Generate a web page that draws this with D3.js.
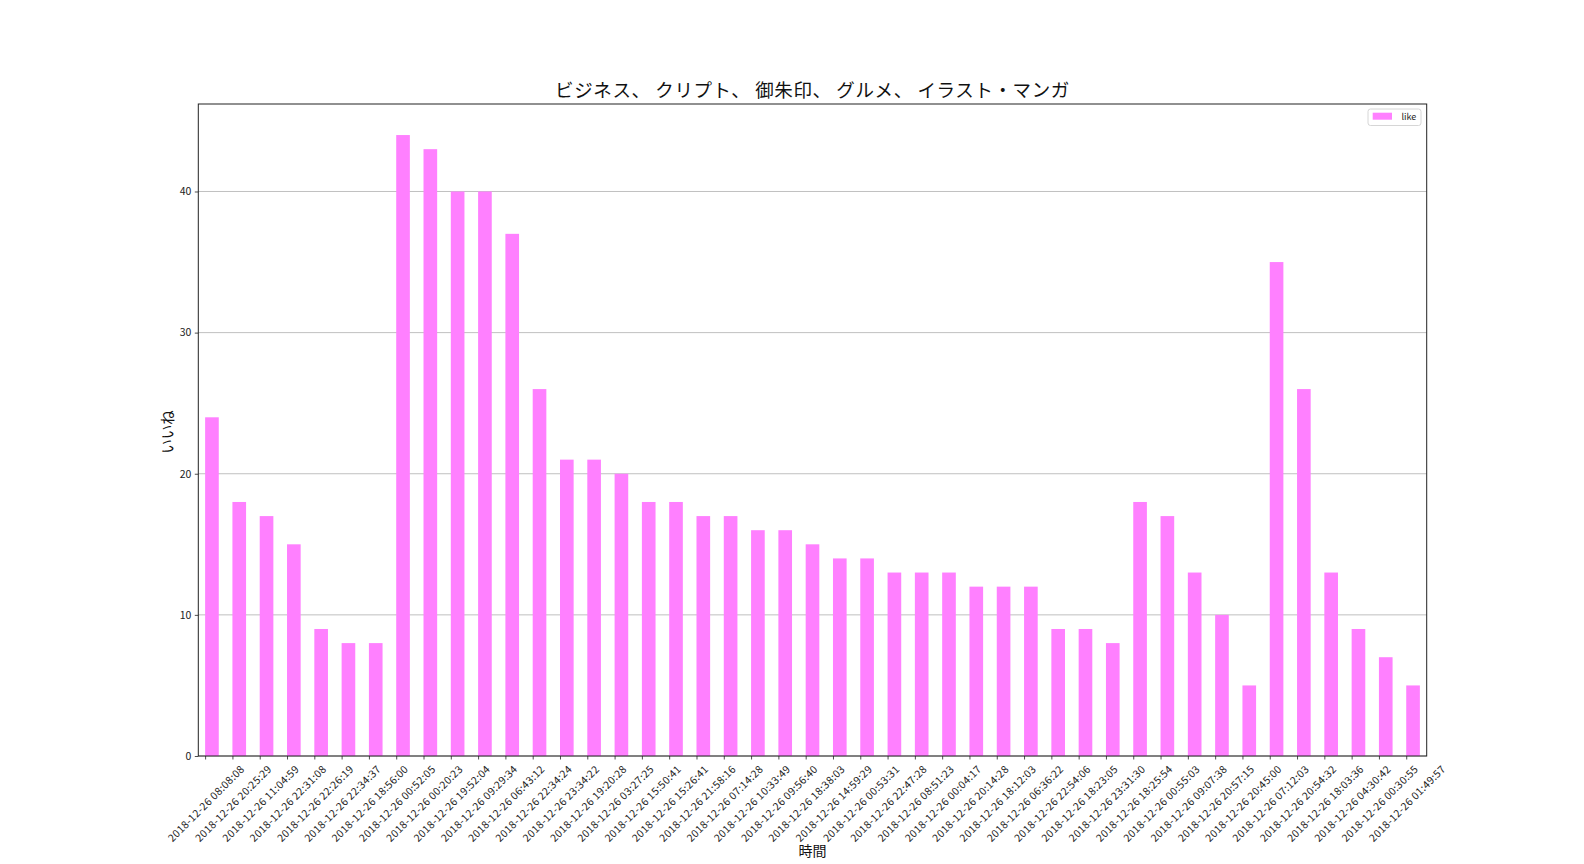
<!DOCTYPE html>
<html><head><meta charset="utf-8">
<script src="https://cdn.jsdelivr.net/npm/d3@7"></script>
<style>body{margin:0;background:#fff}svg{display:block}text{font-family:"Noto Sans CJK JP","Noto Sans",sans-serif}</style>
</head><body><svg id="c" width="1584" height="864"></svg>
<script>
const categories = ["2018-12-26 08:08:08","2018-12-26 20:25:29","2018-12-26 11:04:59","2018-12-26 22:31:08","2018-12-26 22:26:19","2018-12-26 22:34:37","2018-12-26 18:56:00","2018-12-26 00:52:05","2018-12-26 00:20:23","2018-12-26 19:52:04","2018-12-26 09:29:34","2018-12-26 06:43:12","2018-12-26 22:34:24","2018-12-26 23:34:22","2018-12-26 19:20:28","2018-12-26 03:27:25","2018-12-26 15:50:41","2018-12-26 15:26:41","2018-12-26 21:58:16","2018-12-26 07:14:28","2018-12-26 10:33:49","2018-12-26 09:56:40","2018-12-26 18:38:03","2018-12-26 14:59:29","2018-12-26 00:53:31","2018-12-26 22:47:28","2018-12-26 08:51:23","2018-12-26 00:04:17","2018-12-26 20:14:28","2018-12-26 18:12:03","2018-12-26 06:36:22","2018-12-26 22:54:06","2018-12-26 18:23:05","2018-12-26 23:31:30","2018-12-26 18:25:54","2018-12-26 00:55:03","2018-12-26 09:07:38","2018-12-26 20:57:15","2018-12-26 20:45:00","2018-12-26 07:12:03","2018-12-26 20:54:32","2018-12-26 18:03:36","2018-12-26 04:30:42","2018-12-26 00:30:55","2018-12-26 01:49:57"];
const likes = [24,18,17,15,9,8,8,44,43,40,40,37,26,21,21,20,18,18,17,17,16,16,15,14,14,13,13,13,12,12,12,9,9,8,18,17,13,10,5,35,26,13,9,7,5];
const yTicks = [0,10,20,30,40];
const title = "ビジネス、 クリプト、 御朱印、 グルメ、 イラスト・マンガ";
const xLabel = "時間";
const yLabel = "いいね";
const seriesName = "like";

const L = 198.3, R = 1426.7, T = 104, B = 756;
const svg = d3.select("#c");
const n = categories.length;
const x = d3.scaleLinear().domain([-0.25, n - 0.25]).range([L, R]);
const ymax = d3.max(likes) * 1.05;
const y = d3.scaleLinear().domain([0, ymax]).range([B, T]);
const barColor = "#ff80ff";

// grid
svg.append("g").selectAll("line").data(yTicks).join("line")
  .attr("x1", L).attr("x2", R).attr("y1", d => y(d)).attr("y2", d => y(d))
  .attr("stroke", "#b0b0b0").attr("stroke-width", 0.8);

// bars
svg.append("g").selectAll("rect").data(likes).join("rect")
  .attr("x", (d, i) => x(i)).attr("width", (d, i) => x(i + 0.5) - x(i))
  .attr("y", d => y(d)).attr("height", d => B - y(d))
  .attr("fill", barColor);

// y axis
const yAxis = d3.axisLeft(y).tickValues(yTicks).tickSize(3.5).tickPadding(3.5).tickFormat(d3.format("d"));
const gy = svg.append("g").attr("transform", `translate(${L},0)`).call(yAxis);
gy.select(".domain").remove();
gy.selectAll("text").attr("font-size", 10.5).attr("fill", "#222").attr("font-family", "'Noto Sans CJK JP'");
gy.selectAll("line").attr("stroke", "#222").attr("stroke-width", 0.8);

// x axis
const xAxis = d3.axisBottom(x).tickValues(d3.range(n)).tickSize(3.5).tickPadding(3.5).tickFormat(i => categories[i]);
const gx = svg.append("g").attr("transform", `translate(0,${B})`).call(xAxis);
gx.select(".domain").remove();
gx.selectAll("line").attr("stroke", "#222").attr("stroke-width", 0.8);
gx.selectAll("text").attr("font-size", 10.5).attr("letter-spacing", 0.3).attr("fill", "#222")
  .attr("text-anchor", "middle").attr("dy", null).attr("y", null)
  .attr("dominant-baseline", "central")
  .attr("transform", "translate(0,47) rotate(-45)");

// frame
svg.append("rect").attr("x", L).attr("y", T).attr("width", R - L).attr("height", B - T)
  .attr("fill", "none").attr("stroke", "#222").attr("stroke-width", 1);

// title and labels
svg.append("text").attr("x", (L + R) / 2).attr("y", 97).attr("text-anchor", "middle")
  .attr("font-size", 18.5).attr("letter-spacing", 0.6).attr("fill", "#111").text(title);
svg.append("text").attr("x", (L + R) / 2).attr("y", 856).attr("text-anchor", "middle")
  .attr("font-size", 14).attr("fill", "#111").text(xLabel);
svg.append("text").attr("transform", `translate(173,${(T + B) / 2 + 2}) rotate(-90)`).attr("text-anchor", "middle")
  .attr("font-size", 14.5).attr("fill", "#111").text(yLabel);

// legend
const lg = svg.append("g");
lg.append("rect").attr("x", 1368).attr("y", 109).attr("width", 53).attr("height", 16.5).attr("rx", 2.5)
  .attr("fill", "#fff").attr("fill-opacity", 0.8).attr("stroke", "#cccccc").attr("stroke-width", 0.8);
lg.append("rect").attr("x", 1372.7).attr("y", 112.7).attr("width", 19.3).attr("height", 7).attr("fill", barColor);
lg.append("text").attr("x", 1401.5).attr("y", 120.2).attr("font-size", 9).attr("fill", "#222").text(seriesName);
</script></body></html>
